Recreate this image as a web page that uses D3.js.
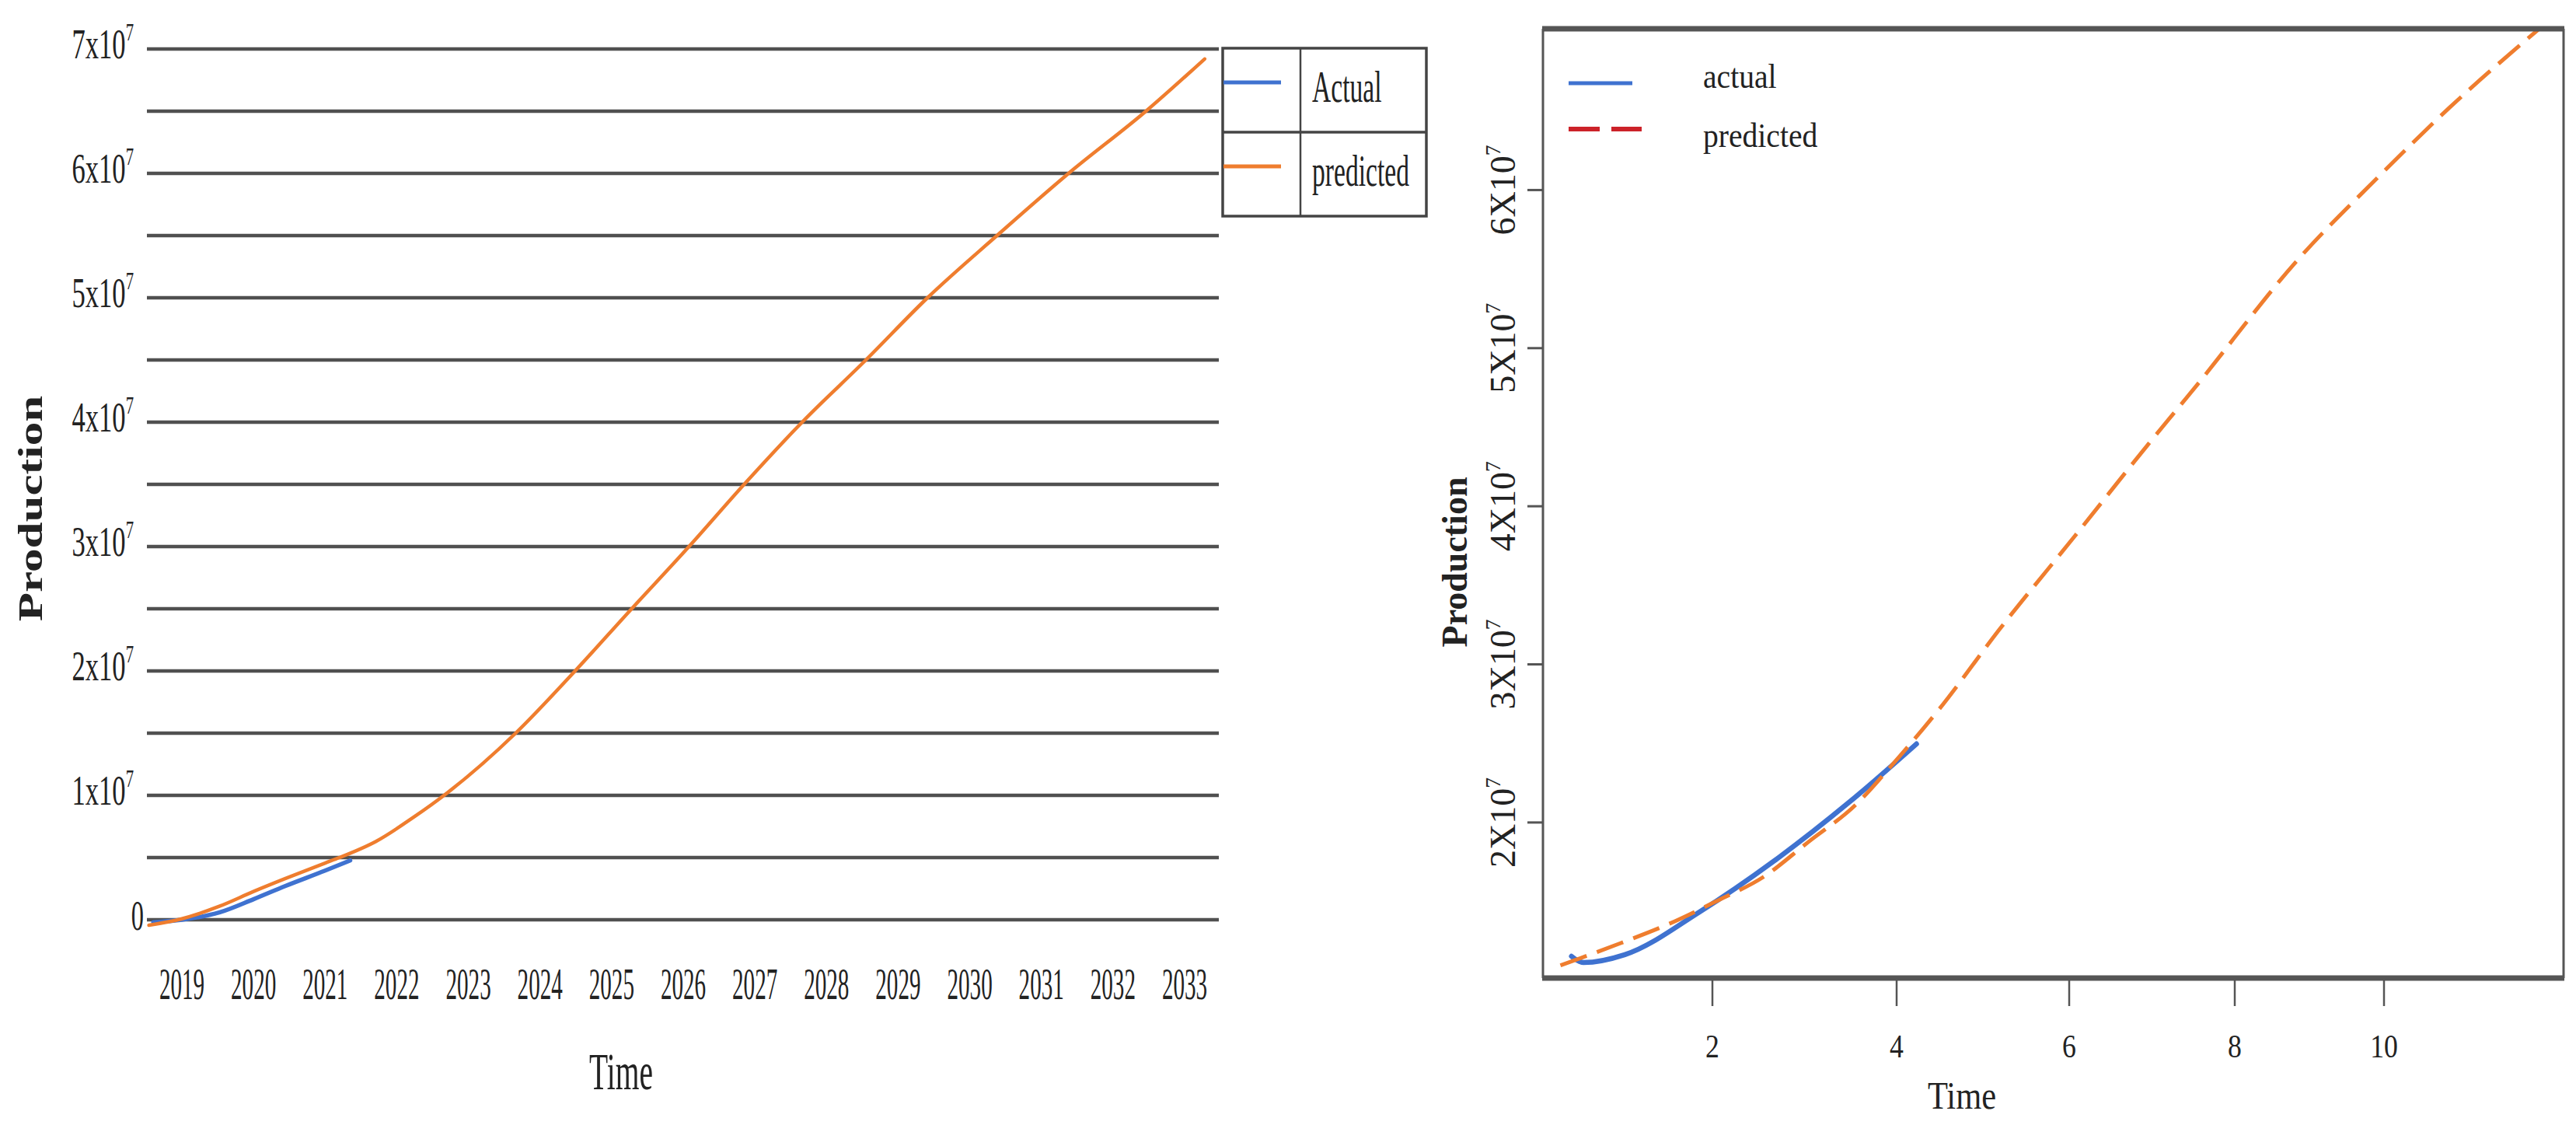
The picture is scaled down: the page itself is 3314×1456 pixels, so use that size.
<!DOCTYPE html>
<html>
<head>
<meta charset="utf-8">
<script src="https://cdn.jsdelivr.net/npm/d3@7"></script>
<style>
html,body{margin:0;padding:0;background:#fff;}
svg{display:block;}
text{font-family:"Liberation Serif","Times New Roman",serif;fill:#222;}
</style>
</head>
<body>
<svg id="chart" width="3314" height="1456"></svg>
<script>
// ---------------- DATA ----------------
// Left panel (calendar years)
const leftYearTicks = [2019,2020,2021,2022,2023,2024,2025,2026,2027,2028,2029,2030,2031,2032,2033];
const leftYLabelTicks = [0,1,2,3,4,5,6,7];           // x10^7
const leftGridTicks = [0,0.5,1,1.5,2,2.5,3,3.5,4,4.5,5,5.5,6,6.5,7]; // x10^7
const leftActualT = [2018.6, 2019.0, 2019.53, 2020.0, 2020.44, 2021.0, 2021.35];
const leftActualV = [-0.02, 0.0, 0.06, 0.165, 0.27, 0.395, 0.477];   // x10^7
const leftPredT = [2018.54, 2019.0, 2019.53, 2020.0, 2020.44, 2021.0, 2021.2, 2021.71, 2022.25, 2022.66, 2023.66, 2024.49, 2025.28, 2026.08, 2026.85, 2027.66, 2028.55, 2029.41, 2030.38, 2031.38, 2032.46, 2033.28];
const leftPredV = [-0.044, 0.008, 0.11, 0.227, 0.33, 0.456, 0.5, 0.63, 0.83, 1.0, 1.5, 2.0, 2.5, 3.0, 3.5, 4.0, 4.5, 5.0, 5.5, 6.0, 6.5, 6.92]; // x10^7
const leftLegend = ["Actual", "predicted"];

// Right panel (time index)
const rightXTicks = [2,4,6,8,10];
const rightYTicks = [2,3,4,5,6];                    // x10^7
const rightActualT = [0.47, 0.60, 1.05, 1.86, 2.675, 3.485, 4.23];
const rightActualV = [1.154, 1.114, 1.164, 1.434, 1.759, 2.128, 2.497]; // x10^7
const rightPredT = [0.35, 1.0, 1.53, 2.06, 2.55, 3.04, 3.57, 3.93, 4.495, 5.19, 6.066, 6.967, 7.51, 8.86, 9.875, 10.875, 12.08];
const rightPredV = [1.096, 1.236, 1.359, 1.507, 1.654, 1.876, 2.12, 2.35, 2.718, 3.22, 3.81, 4.40, 4.745, 5.567, 6.06, 6.52, 7.02]; // x10^7
const rightLegend = ["actual", "predicted"];

// ---------------- STYLE ----------------
const BLUE = "#3f72d0", ORANGE = "#ef7d2e", RED = "#cc2229", GRID = "#505050";
const E7 = 1e7;

const svg = d3.select("#chart");

function squishText(g, x, y, str, opts) {
  const t = g.append("text")
    .attr("transform", `translate(${x},${y}) ${opts.rotate ? "scale(" + opts.sx + ",1) rotate(-90)" : "scale(" + opts.sx + ",1)"}`)
    .attr("text-anchor", opts.anchor || "start")
    .style("font-size", opts.size + "px")
    .style("font-weight", opts.bold ? "bold" : "normal");
  if (opts.sup) {
    t.append("tspan").text(str);
    t.append("tspan").attr("dy", -opts.size * 0.42).style("font-size", (opts.size * 0.6) + "px").text(opts.sup);
  } else {
    t.text(str);
  }
  return t;
}

// ================= LEFT PANEL =================
const xL = d3.scaleLinear().domain([2019, 2033]).range([234, 1524]);
const yL = d3.scaleLinear().domain([0, 7 * E7]).range([1183, 63]);
const gL = svg.append("g");

// gridlines
gL.selectAll("line.grid").data(leftGridTicks).join("line")
  .attr("x1", 189).attr("x2", 1568)
  .attr("y1", d => yL(d * E7)).attr("y2", d => yL(d * E7))
  .attr("stroke", GRID).attr("stroke-width", 4.5);

// y labels
leftYLabelTicks.forEach(d => {
  if (d === 0) {
    squishText(gL, 185, yL(0) + 13, "0", {size: 54, sx: 0.6, anchor: "end"});
  } else {
    squishText(gL, 172, yL(d * E7) + 12, d + "x10", {size: 54, sx: 0.64, anchor: "end", sup: "7"});
  }
});

// x labels
leftYearTicks.forEach(d => {
  squishText(gL, xL(d), 1285, String(d), {size: 56, sx: 0.52, anchor: "middle"});
});

// axis titles
squishText(gL, 799, 1401, "Time", {size: 68, sx: 0.58, anchor: "middle"});
squishText(gL, 54, 654, "Production", {size: 61, sx: 0.72, anchor: "middle", bold: true, rotate: true});

// lines
const lineL = d3.line().x(d => xL(d[0])).y(d => yL(d[1] * E7)).curve(d3.curveMonotoneX);
gL.append("path").datum(d3.zip(leftActualT, leftActualV))
  .attr("d", lineL).attr("fill", "none").attr("stroke", BLUE).attr("stroke-width", 5.5).attr("stroke-linecap", "round");
gL.append("path").datum(d3.zip(leftPredT, leftPredV))
  .attr("d", lineL).attr("fill", "none").attr("stroke", ORANGE).attr("stroke-width", 4.5).attr("stroke-linecap", "round");

// legend box
const lg = gL.append("g");
lg.append("rect").attr("x", 1573).attr("y", 62).attr("width", 262).attr("height", 216)
  .attr("fill", "#fff").attr("stroke", "#444").attr("stroke-width", 3.5);
lg.append("line").attr("x1", 1673).attr("x2", 1673).attr("y1", 62).attr("y2", 278).attr("stroke", "#444").attr("stroke-width", 2.5);
lg.append("line").attr("x1", 1573).attr("x2", 1835).attr("y1", 170).attr("y2", 170).attr("stroke", "#444").attr("stroke-width", 3.5);
[BLUE, ORANGE].forEach((c, i) => {
  const yy = 106 + i * 108;
  lg.append("line").attr("x1", 1574).attr("x2", 1648).attr("y1", yy).attr("y2", yy).attr("stroke", c).attr("stroke-width", 5);
  squishText(lg, 1688, 131 + i * 108, leftLegend[i], {size: 56, sx: 0.6, anchor: "start"});
});

// ================= RIGHT PANEL =================
const xR = d3.scaleLinear().domain([2, 4, 6, 8, 10]).range([2203, 2440, 2662, 2875, 3067]);
const yR = d3.scaleLinear().domain([1.016 * E7, 7.02 * E7]).range([1258, 37]);
const gR = svg.append("g");
const L = 1985, R = 3298, T = 37, B = 1258;

gR.append("clipPath").attr("id", "clipR").append("rect")
  .attr("x", L).attr("y", T).attr("width", R - L).attr("height", B - T);

// y ticks and labels
rightYTicks.forEach(d => {
  const yy = yR(d * E7);
  gR.append("line").attr("x1", 1965).attr("x2", L).attr("y1", yy).attr("y2", yy).attr("stroke", "#555").attr("stroke-width", 3);
  squishText(gR, 1949, yy, d + "X10", {size: 46, sx: 1, anchor: "middle", sup: "7", rotate: true});
});
// x ticks and labels
rightXTicks.forEach(d => {
  const xx = xR(d);
  gR.append("line").attr("x1", xx).attr("x2", xx).attr("y1", B).attr("y2", 1294).attr("stroke", "#555").attr("stroke-width", 2.5);
  squishText(gR, xx, 1360, String(d), {size: 42, sx: 0.85, anchor: "middle"});
});

// titles
squishText(gR, 2524, 1426, "Time", {size: 50, sx: 0.85, anchor: "middle"});
squishText(gR, 1887, 723, "Production", {size: 46, sx: 1, anchor: "middle", bold: true, rotate: true});

// lines
const lineR = d3.line().x(d => xR(d[0])).y(d => yR(d[1] * E7)).curve(d3.curveMonotoneX);
const plotR = gR.append("g").attr("clip-path", "url(#clipR)");
plotR.append("path").datum(d3.zip(rightActualT, rightActualV))
  .attr("d", lineR).attr("fill", "none").attr("stroke", BLUE).attr("stroke-width", 6.5).attr("stroke-linecap", "round");
plotR.append("path").datum(d3.zip(rightPredT, rightPredV))
  .attr("d", lineR).attr("fill", "none").attr("stroke", ORANGE).attr("stroke-width", 5).attr("stroke-dasharray", "36,14");

// frame
gR.append("line").attr("x1", L).attr("x2", L).attr("y1", T).attr("y2", B).attr("stroke", "#555").attr("stroke-width", 3);
gR.append("line").attr("x1", R).attr("x2", R).attr("y1", T).attr("y2", B).attr("stroke", "#555").attr("stroke-width", 3);
gR.append("line").attr("x1", L - 1).attr("x2", R + 1).attr("y1", T).attr("y2", T).attr("stroke", "#555").attr("stroke-width", 7);
gR.append("line").attr("x1", L - 1).attr("x2", R + 1).attr("y1", B).attr("y2", B).attr("stroke", "#555").attr("stroke-width", 7);

// legend
gR.append("line").attr("x1", 2018).attr("x2", 2100).attr("y1", 107).attr("y2", 107).attr("stroke", BLUE).attr("stroke-width", 5);
gR.append("line").attr("x1", 2018).attr("x2", 2112).attr("y1", 166).attr("y2", 166).attr("stroke", RED).attr("stroke-width", 6).attr("stroke-dasharray", "40,15");
rightLegend.forEach((s, i) => {
  squishText(gR, 2191, 113 + i * 76, s, {size: 44, sx: 0.9, anchor: "start"});
});
</script>
</body>
</html>
